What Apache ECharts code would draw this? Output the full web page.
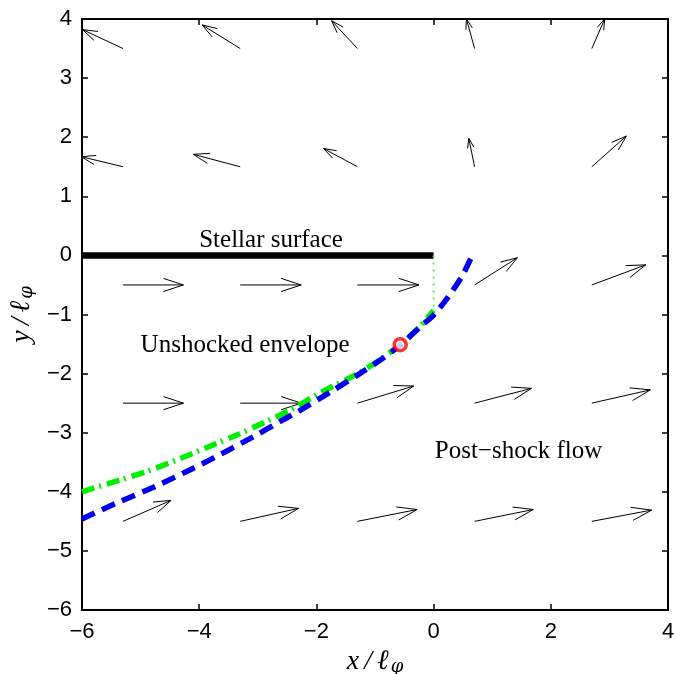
<!DOCTYPE html>
<html>
<head>
<meta charset="utf-8">
<script src="https://cdn.jsdelivr.net/npm/echarts@6/dist/echarts.min.js"></script>
<style>
  html, body { margin: 0; padding: 0; background: #fff; }
  #chart { width: 676px; height: 674px; }
</style>
</head>
<body>
<div id="chart"></div>
<script>
// 速度场网格 (quiver)
const arrowCols = [-5.3, -3.3, -1.3, 0.7, 2.7]
const arrowRows = [3.5, 1.5, -0.5, -2.5, -4.5]
const arrowU = [
  [-0.69, -0.65, -0.44, -0.14, 0.22],
  [-0.71, -0.8, -0.58, -0.1, 0.59],
  [1.03, 1.04, 1.05, 0.73, 0.92],
  [1.03, 1.04, 0.96, 0.97, 1.0],
  [0.82, 0.995, 1.02, 1.0, 1.02]
]
const arrowV = [
  [0.32, 0.4, 0.47, 0.5, 0.5],
  [0.17, 0.21, 0.31, 0.48, 0.52],
  [0, 0, 0, 0.46, 0.34],
  [0, 0, 0.29, 0.25, 0.225],
  [0.355, 0.22, 0.2, 0.2, 0.19]
]

// 恒星表面
const surfaceX = [-6, 0]
const surfaceY = [0, 0]

// 绿色竖直虚线
const dropX = [0, 0]
const dropY = [0, -0.93]

// 绿色点划线
const greenX = [-6, -5.35, -4.9, -4.38, -3.7, -3.36, -2.85, -2.42, -1.94, -1.26, -0.91, -0.57, -0.23, 0]
const greenY = [-4.0, -3.8, -3.66, -3.46, -3.18, -3.04, -2.81, -2.6, -2.33, -1.98, -1.76, -1.51, -1.2, -0.93]

// 蓝色激波线
const shockX = [-6, -5.41, -4.73, -4.1, -3.76, -3.08, -2.62, -2.31, -1.71, -1.26, -0.91, -0.57, -0.23, 0, 0.25, 0.48, 0.65]
const shockY = [-4.46, -4.19, -3.9, -3.6, -3.43, -3.07, -2.81, -2.64, -2.28, -2.0, -1.77, -1.52, -1.21, -1.01, -0.7, -0.36, -0.02]

// 红圈
const pointX = [-0.57]
const pointY = [-1.51]

// 文字标注
const noteText = ['Stellar surface', 'Unshocked envelope', 'Post\u2212shock flow']
const noteX = [-4.0, -5.0, 0.02]
const noteY = [0.26, -1.53, -3.32]

const zip = (xs, ys) => xs.map((v, i) => [v, ys[i]])

const quiverData = []
arrowRows.forEach((y, r) => {
  arrowCols.forEach((x, c) => {
    quiverData.push([x, y, arrowU[r][c], arrowV[r][c]])
  })
})

const minus = v => (v < 0 ? '\u2212' + Math.abs(v) : String(v))

const tickFont = { color: '#000', fontSize: 22, fontFamily: 'Liberation Sans' }
const lineBlack = { color: '#000', width: 2 }

const nameRich = {
  i: { fontFamily: 'Liberation Serif', fontStyle: 'italic', fontSize: 28, color: '#000' },
  g: { fontFamily: 'Liberation Serif', fontStyle: 'italic', fontSize: 28, color: '#000', padding: [0, 5, 0, 5] },
  s: { fontFamily: 'DejaVu Serif', fontStyle: 'italic', fontSize: 18, color: '#000', padding: [10, 0, 0, 2] }
}

const chart = echarts.init(document.getElementById('chart'))

const option = {
  animation: false,
  backgroundColor: '#fff',
  grid: { left: 82, right: 8, top: 19, bottom: 64, containLabel: false, outerBoundsMode: 'none' },
  xAxis: [
    {
      type: 'value', min: -6, max: 4, interval: 2, position: 'bottom',
      axisLine: { show: true, onZero: false, lineStyle: lineBlack },
      axisTick: { show: true, inside: true, length: 6, lineStyle: { color: '#000', width: 1.5 } },
      splitLine: { show: false },
      axisLabel: Object.assign({ margin: 11, formatter: minus }, tickFont),
      name: '{i|x}{g|/}{i|ℓ}{s|φ}', nameLocation: 'middle', nameGap: 26,
      nameTextStyle: { rich: nameRich }
    },
    {
      type: 'value', min: -6, max: 4, interval: 2, position: 'top',
      axisLine: { show: true, onZero: false, lineStyle: lineBlack },
      axisTick: { show: true, inside: true, length: 6, lineStyle: { color: '#000', width: 1.5 } },
      splitLine: { show: false },
      axisLabel: { show: false }
    }
  ],
  yAxis: [
    {
      type: 'value', min: -6, max: 4, interval: 1, position: 'left',
      axisLine: { show: true, onZero: false, lineStyle: lineBlack },
      axisTick: { show: true, inside: true, length: 6, lineStyle: { color: '#000', width: 1.5 } },
      splitLine: { show: false },
      axisLabel: Object.assign({ margin: 10, formatter: minus }, tickFont),
      name: '{i|y}{g|/}{i|ℓ}{s|φ}', nameLocation: 'middle', nameGap: 37, nameRotate: 90,
      nameTextStyle: { rich: nameRich }
    },
    {
      type: 'value', min: -6, max: 4, interval: 1, position: 'right',
      axisLine: { show: true, onZero: false, lineStyle: lineBlack },
      axisTick: { show: true, inside: true, length: 6, lineStyle: { color: '#000', width: 1.5 } },
      splitLine: { show: false },
      axisLabel: { show: false }
    }
  ],
  series: [
    {
      type: 'custom',
      name: 'quiver',
      clip: true,
      data: quiverData,
      encode: { x: 0, y: 1 },
      renderItem: function (params, api) {
        const x = api.value(0), y = api.value(1), u = api.value(2), v = api.value(3)
        const p0 = api.coord([x, y])
        const p1 = api.coord([x + u, y + v])
        const dx = p1[0] - p0[0], dy = p1[1] - p0[1]
        const a = 0.33, b = 0.33
        const h1 = [p1[0] - a * (dx + b * dy), p1[1] - a * (dy - b * dx)]
        const h2 = [p1[0] - a * (dx - b * dy), p1[1] - a * (dy + b * dx)]
        const st = { stroke: '#000', lineWidth: 1, fill: null }
        const cs = params.coordSys
        return {
          type: 'group',
          clipPath: { type: 'rect', shape: { x: cs.x, y: cs.y, width: cs.width, height: cs.height } },
          children: [
            { type: 'polyline', shape: { points: [p0, p1] }, style: st },
            { type: 'polyline', shape: { points: [h1, p1, h2] }, style: st }
          ]
        }
      },
      z: 2
    },
    {
      type: 'line',
      data: zip(surfaceX, surfaceY),
      showSymbol: false, symbol: 'none',
      lineStyle: { color: '#000', width: 6.5, cap: 'butt' },
      z: 3
    },
    {
      type: 'line',
      data: zip(dropX, dropY),
      symbol: 'none',
      lineStyle: { color: '#55ee55', width: 2, type: [2, 5] },
      z: 3
    },
    {
      type: 'line',
      data: zip(greenX, greenY),
      symbol: 'none',
      smooth: 0.3,
      lineStyle: { color: '#00ee00', width: 5.5, type: [13, 5, 2, 6], cap: 'butt' },
      z: 4
    },
    {
      type: 'line',
      data: zip(shockX, shockY),
      symbol: 'none',
      smooth: 0.3,
      lineStyle: { color: '#0000ee', width: 5.5, type: [14, 8], cap: 'butt' },
      z: 5
    },
    {
      type: 'scatter',
      data: zip(pointX, pointY),
      symbol: 'circle',
      symbolSize: 12,
      itemStyle: { color: '#fff', borderColor: '#ff0000', borderWidth: 3.5 },
      z: 6
    },
    {
      type: 'custom',
      name: 'notes',
      data: noteText.map((t, i) => [noteX[i], noteY[i], i]),
      encode: { x: 0, y: 1 },
      renderItem: function (params, api) {
        const p = api.coord([api.value(0), api.value(1)])
        return {
          type: 'text',
          x: p[0], y: p[1],
          style: {
            text: noteText[api.value(2)],
            fill: '#000',
            fontFamily: 'Liberation Serif',
            fontSize: 25,
            align: 'left',
            verticalAlign: 'middle'
          }
        }
      },
      z: 7
    }
  ]
}

chart.setOption(option, true)
</script>
</body>
</html>
